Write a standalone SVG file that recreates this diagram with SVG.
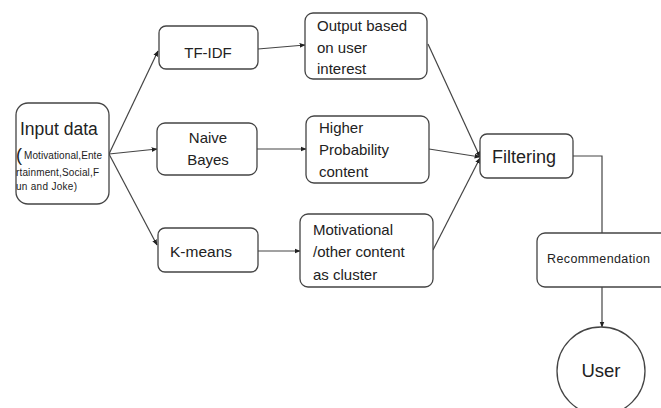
<svg xmlns="http://www.w3.org/2000/svg" width="661" height="408" viewBox="0 0 661 408">
<defs>
<style>
.box{fill:#fff;stroke:#444;stroke-width:1.3}
.t{font-family:"Liberation Sans",Arial,sans-serif;fill:#222}
.ln{fill:none;stroke:#444;stroke-width:1.2}
</style>
<marker id="ah" viewBox="0 0 10 10" refX="9" refY="5" markerWidth="6" markerHeight="6" orient="auto" markerUnits="userSpaceOnUse">
<path d="M0,1 L10,5 L0,9 z" fill="#222"/>
</marker>
</defs>
<rect width="661" height="408" fill="#fff"/>
<g id="connectors">
<line class="ln" x1="109" y1="154" x2="158" y2="51" marker-end="url(#ah)"/>
<line class="ln" x1="109" y1="154" x2="157" y2="149" marker-end="url(#ah)"/>
<line class="ln" x1="109" y1="154" x2="157" y2="245" marker-end="url(#ah)"/>
<line class="ln" x1="258" y1="49" x2="305" y2="45" marker-end="url(#ah)"/>
<line class="ln" x1="257" y1="149" x2="306" y2="149" marker-end="url(#ah)"/>
<line class="ln" x1="258" y1="251" x2="300" y2="251" marker-end="url(#ah)"/>
<line class="ln" x1="428" y1="44" x2="480" y2="157" marker-end="url(#ah)"/>
<line class="ln" x1="429" y1="149" x2="480" y2="157" marker-end="url(#ah)"/>
<line class="ln" x1="433" y1="250" x2="480" y2="158" marker-end="url(#ah)"/>
<polyline class="ln" points="573,156 602,156 602,233"/>
<line class="ln" x1="602" y1="287" x2="602" y2="327" marker-end="url(#ah)"/>
</g>
<g id="input">
<rect class="box" x="16" y="103" width="93" height="101" rx="12"/>
<text class="t" x="20" y="135" font-size="17.5">Input data</text>
<text class="t" x="16" y="161" font-size="18">(</text>
<text class="t" x="24" y="159" font-size="10" textLength="78">Motivational,Ente</text>
<text class="t" x="16" y="176" font-size="10" textLength="83">rtainment,Social,F</text>
<text class="t" x="16" y="190" font-size="10" textLength="61">un and Joke)</text>
</g>
<g id="tfidf">
<rect class="box" x="159" y="26" width="99" height="43" rx="7"/>
<text class="t" x="208" y="58" font-size="15" text-anchor="middle">TF-IDF</text>
</g>
<g id="naive">
<rect class="box" x="157" y="123" width="100" height="52" rx="8"/>
<text class="t" x="208" y="143" font-size="15" text-anchor="middle">Naive</text>
<text class="t" x="208" y="165" font-size="15" text-anchor="middle">Bayes</text>
</g>
<g id="kmeans">
<rect class="box" x="158" y="228" width="100" height="44" rx="7"/>
<text class="t" x="170" y="257" font-size="15.5">K-means</text>
</g>
<g id="output">
<rect class="box" x="305" y="13" width="122" height="66" rx="8"/>
<text class="t" x="317" y="31" font-size="15">Output based</text>
<text class="t" x="317" y="53" font-size="15">on user</text>
<text class="t" x="317" y="74" font-size="15">interest</text>
</g>
<g id="higher">
<rect class="box" x="306" y="116" width="123" height="67" rx="8"/>
<text class="t" x="319" y="133" font-size="15">Higher</text>
<text class="t" x="319" y="155" font-size="15">Probability</text>
<text class="t" x="319" y="177" font-size="15">content</text>
</g>
<g id="cluster">
<rect class="box" x="300" y="214" width="133" height="73" rx="8"/>
<text class="t" x="313" y="235" font-size="15">Motivational</text>
<text class="t" x="313" y="257" font-size="15">/other content</text>
<text class="t" x="313" y="280" font-size="15">as cluster</text>
</g>
<g id="filtering">
<rect class="box" x="480" y="134" width="93" height="44" rx="7"/>
<text class="t" x="492" y="163" font-size="18">Filtering</text>
</g>
<g id="recommendation">
<rect class="box" x="537" y="233" width="134" height="54" rx="8"/>
<text class="t" x="547" y="263" font-size="12.5" textLength="103">Recommendation</text>
</g>
<g id="user">
<circle class="box" cx="601" cy="371" r="44"/>
<text class="t" x="601" y="377" font-size="18.5" text-anchor="middle">User</text>
</g>
</svg>
